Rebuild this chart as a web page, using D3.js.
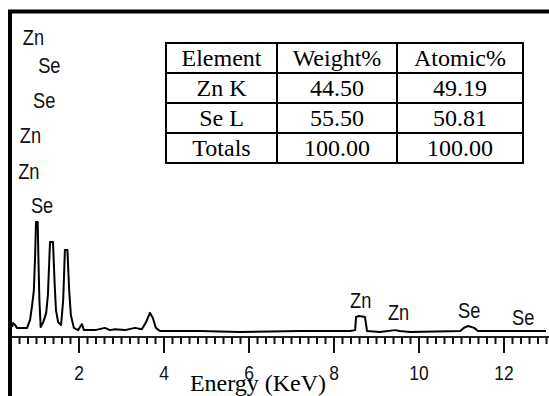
<!DOCTYPE html>
<html>
<head>
<meta charset="utf-8">
<script src="https://cdn.jsdelivr.net/npm/d3@7"></script>
<style>
  body { margin: 0; background: #fff; }
  svg { display: block; }
  .lbl { font-family: "Liberation Sans", Arial, sans-serif; }
  .serif { font-family: "Liberation Serif", "Times New Roman", serif; }
</style>
</head>
<body>
<svg id="chart" width="549" height="396"></svg>
<script>
// spectrum (keV, counts)
var energy = [0.44,0.46,0.51,0.55,0.79,0.86,0.91,0.95,0.98,1.00,1.04,1.06,1.08,1.11,1.17,1.24,1.28,1.33,1.40,1.44,1.47,1.52,1.59,1.64,1.68,1.74,1.78,1.82,1.89,1.99,2.08,2.13,2.39,2.62,2.74,2.86,3.09,3.33,3.49,3.59,3.68,3.75,3.82,3.92,4.15,4.86,5.80,7.21,8.39,8.51,8.53,8.60,8.74,8.79,9.09,9.45,9.56,9.80,10.98,11.07,11.17,11.31,11.40,11.92,13.0];
var counts = [19,31,25,16,16,41,88,134,244,347,347,213,103,19,34,63,119,284,284,150,72,34,25,103,259,259,134,56,16,9,28,9,9,16,9,12,9,16,12,34,63,47,16,6,6,6,3,6,6,9,50,53,50,6,3,9,6,3,6,16,22,16,6,6,6];

// peak labels
var peakNames  = ["Zn","Se","Se","Zn","Zn","Se","Zn","Zn","Se","Se"];
var peakEnergy = [0.69,1.05,0.93,0.62,0.58,0.88,8.39,9.28,10.93,12.2];
var peakCounts = [900,812,703,594,481,375,78,41,47,25];

var majorTicks = [2,4,6,8,10,12];

// table
var tableHead = ["Element","Weight%","Atomic%"];
var elements  = ["Zn K","Se L","Totals"];
var weightPct = ["44.50","55.50","100.00"];
var atomicPct = ["49.19","50.81","100.00"];

var narrow = 0.83; // the picture's sans labels are condensed

var svg = d3.select("#chart");

var x = d3.scaleLinear().domain([0, 13]).range([-6.5, 546]);
var y = d3.scaleLinear().domain([0, 1000]).range([333, 13]);

// spectrum
var pts = energy.map(function(e, i){ return [e, counts[i]]; });
svg.append("path")
  .datum(pts)
  .attr("fill", "none")
  .attr("stroke", "#000")
  .attr("stroke-width", 2)
  .attr("stroke-linejoin", "round")
  .attr("d", d3.line().x(function(d){ return x(d[0]); }).y(function(d){ return y(d[1]); }));

// axis line
svg.append("line")
  .attr("x1", 12).attr("x2", 549)
  .attr("y1", 337).attr("y2", 337)
  .attr("stroke", "#222").attr("stroke-width", 2);

// minor ticks
var minor = d3.range(6, 131, 2).map(function(v){ return v / 10; });
svg.append("g")
  .attr("transform", "translate(0,337)")
  .call(d3.axisBottom(x).tickValues(minor).tickSize(7).tickFormat(""))
  .call(function(g){ g.select(".domain").remove(); })
  .selectAll("line").attr("stroke", "#111").attr("stroke-width", 2);

// major ticks
var ax = svg.append("g")
  .attr("transform", "translate(0,337)")
  .call(d3.axisBottom(x).tickValues(majorTicks).tickSize(16).tickPadding(12).tickFormat(d3.format("d")));
ax.select(".domain").remove();
ax.selectAll("line").attr("stroke", "#111").attr("stroke-width", 2);
ax.selectAll("text")
  .attr("class", "lbl")
  .attr("font-size", 21)
  .attr("fill", "#111")
  .attr("transform", "scale(" + narrow + ",1)");

// peak labels
svg.selectAll(".peak")
  .data(peakNames)
  .enter()
  .append("text")
  .attr("class", "lbl peak")
  .attr("transform", function(d, i){
    return "translate(" + x(peakEnergy[i]) + "," + y(peakCounts[i]) + ") scale(" + narrow + ",1)";
  })
  .attr("font-size", 22)
  .attr("fill", "#111")
  .text(function(d){ return d; });

// x label
svg.append("text")
  .attr("class", "serif")
  .attr("x", 258).attr("y", 391)
  .attr("text-anchor", "middle")
  .attr("font-size", 24)
  .text("Energy (KeV)");

// frame (top and left)
svg.append("path")
  .attr("d", "M10,396V11.5H549")
  .attr("fill", "none")
  .attr("stroke", "#000")
  .attr("stroke-width", 4);

// table
var colEdges = [166, 277, 397, 523];
var rowTop = 43, rowH = 30;
var rows = [tableHead].concat(elements.map(function(e, i){ return [e, weightPct[i], atomicPct[i]]; }));
var tbl = svg.append("g");
rows.forEach(function(r, ri){
  r.forEach(function(cell, ci){
    tbl.append("rect")
      .attr("x", colEdges[ci]).attr("y", rowTop + ri * rowH)
      .attr("width", colEdges[ci + 1] - colEdges[ci]).attr("height", rowH)
      .attr("fill", "#fff").attr("stroke", "#000").attr("stroke-width", 2);
    tbl.append("text")
      .attr("class", "serif")
      .attr("x", (colEdges[ci] + colEdges[ci + 1]) / 2)
      .attr("y", rowTop + ri * rowH + 23)
      .attr("text-anchor", "middle")
      .attr("font-size", 24)
      .text(cell);
  });
});
</script>
</body>
</html>
